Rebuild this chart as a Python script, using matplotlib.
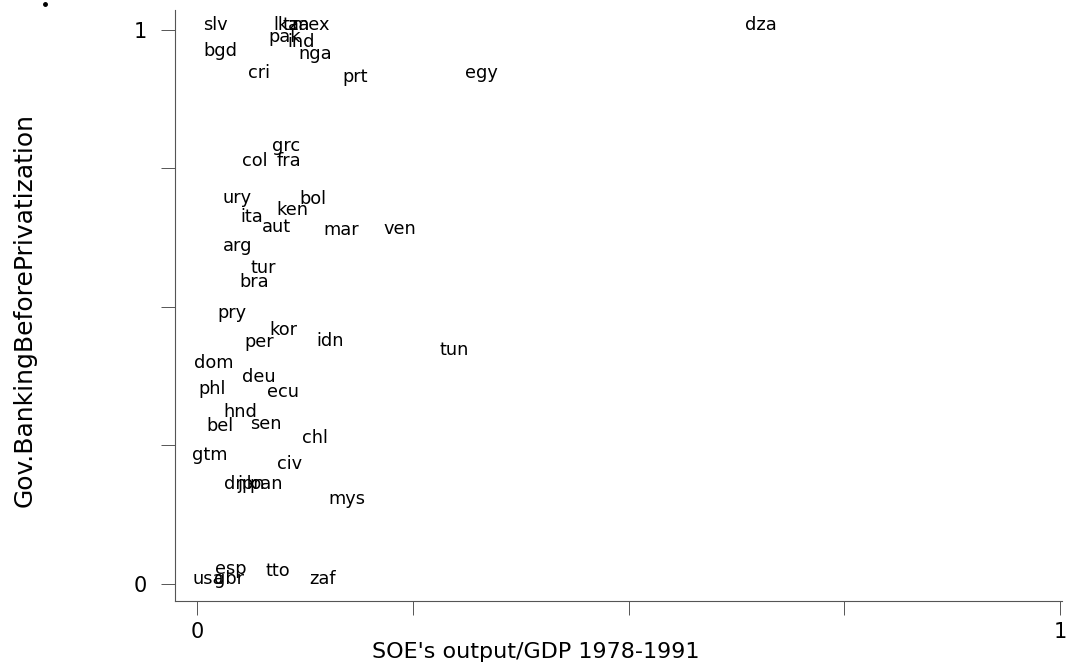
import numpy as np
import matplotlib.pyplot as plt
from matplotlib.lines import Line2D

# country codes and their values
countries = ["slv", "lka", "tza", "mex", "pak", "ind", "bgd", "nga", "cri", "prt",
             "egy", "dza", "grc", "col", "fra", "ury", "bol", "ken", "ita", "aut",
             "mar", "ven", "arg", "tur", "bra", "pry", "kor", "per", "idn", "tun",
             "dom", "deu", "phl", "ecu", "hnd", "bel", "sen", "chl", "gtm", "civ",
             "dnk", "jpn", "pan", "mys", "esp", "usa", "gbr", "tto", "zaf"]

soe_output = [0.013, 0.094, 0.105, 0.115, 0.089, 0.111, 0.013, 0.123, 0.065, 0.174,
              0.316, 0.641, 0.093, 0.058, 0.098, 0.035, 0.124, 0.098, 0.056, 0.081,
              0.152, 0.222, 0.036, 0.068, 0.055, 0.029, 0.090, 0.061, 0.144, 0.287,
              0.002, 0.058, 0.007, 0.087, 0.036, 0.017, 0.067, 0.127, 0.000, 0.098,
              0.037, 0.052, 0.067, 0.158, 0.027, 0.000, 0.025, 0.085, 0.136]

gov_banking = [1.000, 1.000, 1.000, 1.000, 0.978, 0.969, 0.953, 0.948, 0.913, 0.906,
               0.913, 1.000, 0.781, 0.754, 0.754, 0.688, 0.686, 0.665, 0.653, 0.636,
               0.629, 0.632, 0.601, 0.561, 0.536, 0.480, 0.449, 0.427, 0.430, 0.413,
               0.390, 0.364, 0.342, 0.338, 0.301, 0.276, 0.280, 0.255, 0.224, 0.208,
               0.172, 0.172, 0.172, 0.145, 0.018, 0.000, 0.000, 0.014, 0.000]

plt.rcParams['font.family'] = ['DejaVu Sans']

fig = plt.figure(figsize=(10.75, 6.67), dpi=100)
ax = fig.add_axes([175/1075, 66/667, 887/1075, 591/667])

# labels only, no markers (Stata style mlabel)
for name, x, y in zip(countries, soe_output, gov_banking):
    ax.annotate(name, (x, y), xytext=(-5, 5), textcoords='offset pixels',
                ha='left', va='center', fontsize=12.8, color='black')

ax.set_xlim(-0.0255, 1.002)
ax.set_ylim(-0.031, 1.036)

ax.set_xticks([0, 0.25, 0.5, 0.75, 1])
ax.set_xticklabels(["0", "", "", "", "1"])
ax.set_yticks([0, 0.25, 0.5, 0.75, 1])
ax.set_yticklabels(["0", "", "", "", "1"])

for s in ['top', 'right']:
    ax.spines[s].set_visible(False)
for s in ['left', 'bottom']:
    ax.spines[s].set_color('#555555')
    ax.spines[s].set_linewidth(0.8)

ax.tick_params(axis='both', direction='out', length=10, width=0.7,
               color='#555555', labelsize=15)
ax.tick_params(axis='x', pad=5)
ax.tick_params(axis='y', pad=10)

ax.set_xlabel("SOE's output/GDP 1978-1991", fontsize=16)
ax.xaxis.set_label_coords(0.4064, -0.0863)
ax.xaxis.label.set_va('center')

ax.set_ylabel("Gov.BankingBeforePrivatization", fontsize=18)
ax.yaxis.set_label_coords(-0.169, 0.492)
ax.yaxis.label.set_va('center')
ax.yaxis.label.set_ha('center')

# stray dot in the upper left corner of the scan
fig.add_artist(Line2D([45/1075], [1 - 4/667], marker='o', markersize=2.5,
                      color='black', transform=fig.transFigure))

plt.savefig("out.png", dpi=100)
